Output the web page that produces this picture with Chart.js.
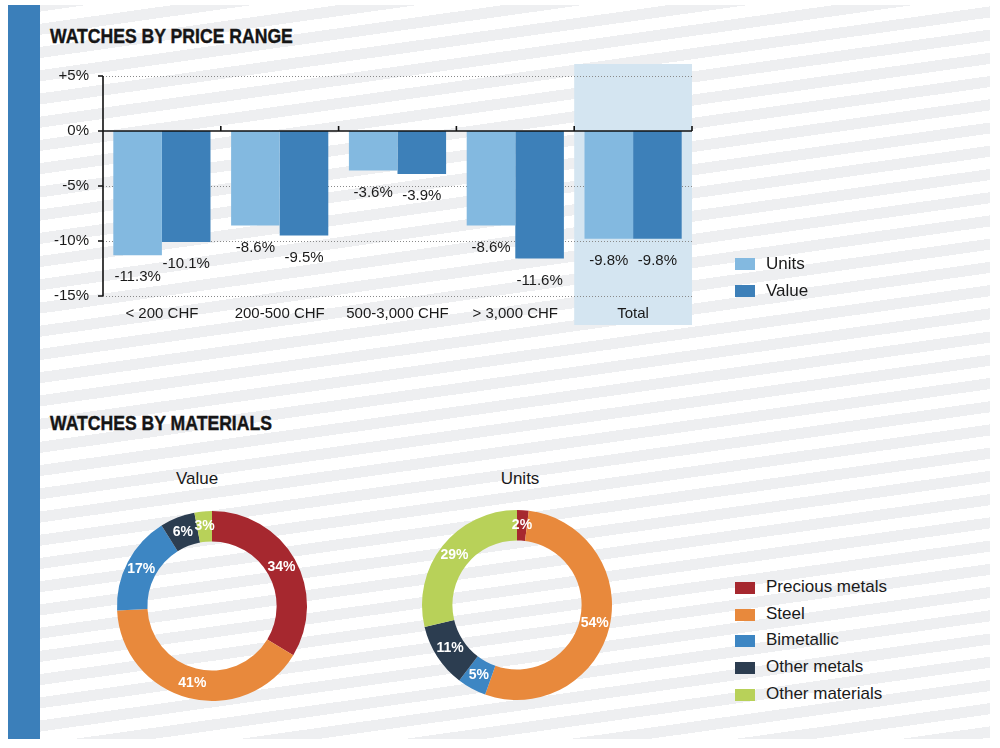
<!DOCTYPE html>
<html>
<head>
<meta charset="utf-8">
<script src="https://cdn.jsdelivr.net/npm/chart.js@4.4.1/dist/chart.umd.min.js"></script>
<style>
  html, body { margin: 0; padding: 0; background: #fff; }
  body { width: 1000px; height: 748px; position: relative; overflow: hidden;
         font-family: "Liberation Sans", Arial, sans-serif; color: #1a1a1a; }
  #bg { position: absolute; left: 8px; top: 5px; width: 982px; height: 734px;
        background: repeating-linear-gradient(172deg, #eeeff1 0px, #eeeff1 11px, #fff 11px, #fff 23px); }
  #band { position: absolute; left: 8px; top: 5px; width: 32px; height: 734px; background: #3b7fba; }
  .title { position: absolute; left: 50px; font-family: "Liberation Sans", Arial, sans-serif;
           font-weight: bold; font-size: 20px; line-height: 20px; white-space: nowrap;
           transform: scaleX(0.88); transform-origin: 0 0; color: #151515;
           -webkit-text-stroke: 0.4px #151515; }
  canvas { position: absolute; }
  .legend { position: absolute; left: 735px; font-size: 17px; }
  .legend div { height: 27px; line-height: 27px; position: relative; padding-left: 31px; white-space: nowrap; }
  .legend span { position: absolute; left: 0; top: 8px; width: 20px; height: 12px; }
  .sub { position: absolute; top: 469px; font-size: 17px; line-height: 20px; transform: translateX(-50%); }
</style>
</head>
<body>
<div id="bg"></div>
<div id="band"></div>
<div class="title" style="top:26px">WATCHES BY PRICE RANGE</div>
<div class="title" style="top:413px">WATCHES BY MATERIALS</div>
<canvas id="bars" width="1000" height="340" style="left:0;top:0"></canvas>
<div class="legend" id="barLegend" style="top:250px"></div>

<div class="sub" style="left:197px">Value</div>
<div class="sub" style="left:520px">Units</div>
<canvas id="ringValue" width="200" height="200" style="left:112px;top:506px"></canvas>
<canvas id="ringUnits" width="200" height="200" style="left:417px;top:505px"></canvas>
<div class="legend" id="ringLegend" style="top:574px"></div>

<script>
// price ranges, change vs previous year in %
const categories = ['< 200 CHF', '200-500 CHF', '500-3,000 CHF', '> 3,000 CHF', 'Total'];
const unitsChange = [-11.3, -8.6, -3.6, -8.6, -9.8];
const valueChange = [-10.1, -9.5, -3.9, -11.6, -9.8];
const yTicks = [5, 0, -5, -10, -15];
const yTickLabels = ['+5%', '0%', '-5%', '-10%', '-15%'];
const highlightCategory = 'Total';

// materials, share in %
const materials = ['Precious metals', 'Steel', 'Bimetallic', 'Other metals', 'Other materials'];
const valueShares = [34, 41, 17, 6, 3];
const unitShares = [2, 54, 5, 11, 29];

const lightBlue = '#83b9e0';
const darkBlue = '#3d80b9';
const materialColors = ['#a6282f', '#e8893c', '#3d86c3', '#2c3d50', '#b8d159'];
const textColor = '#1a1a1a';
const font = '"Liberation Sans", Arial, sans-serif';

Chart.defaults.font.family = font;
Chart.defaults.color = textColor;

function fmt(v) {
  return v.toFixed(1) + '%';
}

const barFrame = {
  id: 'barFrame',
  beforeDraw(chart) {
    const {ctx, chartArea: a, scales: {x}} = chart;
    const w = (a.right - a.left) / categories.length;
    const cx = x.getPixelForValue(categories.indexOf(highlightCategory));
    ctx.save();
    ctx.fillStyle = '#d4e5f1';
    ctx.fillRect(cx - w / 2, a.top - 12, w, a.bottom - a.top + 41);
    ctx.restore();
  },
  beforeDatasetsDraw(chart) {
    const {ctx, chartArea: a, scales: {y}} = chart;
    ctx.save();
    ctx.strokeStyle = '#8a8a8a';
    ctx.lineWidth = 1;
    ctx.setLineDash([1, 2]);
    yTicks.forEach(v => {
      if (v === 0) return;
      const py = Math.round(y.getPixelForValue(v)) + 0.5;
      ctx.beginPath();
      ctx.moveTo(a.left, py);
      ctx.lineTo(a.right, py);
      ctx.stroke();
    });
    ctx.restore();
  },
  afterDatasetsDraw(chart) {
    const {ctx, chartArea: a, scales: {x, y}} = chart;
    const y0 = y.getPixelForValue(0);
    const w = (a.right - a.left) / categories.length;
    ctx.save();
    ctx.strokeStyle = '#111';
    ctx.lineWidth = 1.6;
    ctx.beginPath();
    ctx.moveTo(a.left, y0);
    ctx.lineTo(a.right, y0);
    ctx.moveTo(a.left, a.top);
    ctx.lineTo(a.left, a.bottom);
    yTicks.forEach(v => {
      const py = y.getPixelForValue(v);
      ctx.moveTo(a.left - 5, py);
      ctx.lineTo(a.left, py);
    });
    for (let i = 1; i <= categories.length; i++) {
      const px = a.left + i * w;
      ctx.moveTo(px, y0 - 5);
      ctx.lineTo(px, y0);
    }
    ctx.stroke();

    // value labels under the bar ends
    ctx.fillStyle = textColor;
    ctx.font = '15px ' + font;
    ctx.textAlign = 'center';
    ctx.textBaseline = 'middle';
    chart.data.datasets.forEach((ds, di) => {
      chart.getDatasetMeta(di).data.forEach((bar, i) => {
        ctx.fillText(fmt(ds.data[i]), bar.x, bar.y + 22);
      });
    });
    ctx.restore();
  }
};

new Chart(document.getElementById('bars'), {
  type: 'bar',
  data: {
    labels: categories,
    datasets: [
      { label: 'Units', data: unitsChange, backgroundColor: lightBlue },
      { label: 'Value', data: valueChange, backgroundColor: darkBlue }
    ]
  },
  options: {
    responsive: false,
    animation: false,
    events: [],
    categoryPercentage: 0.825,
    barPercentage: 1,
    layout: { padding: { left: 40, right: 308, top: 76, bottom: 14 } },
    scales: {
      x: {
        grid: { display: false, drawTicks: false },
        border: { display: false },
        ticks: { padding: 9, font: { size: 15 }, color: textColor },
        afterFit(s) { s.height = 30; }
      },
      y: {
        min: -15,
        max: 5,
        grid: { display: false, drawTicks: false },
        border: { display: false },
        afterBuildTicks(s) { s.ticks = yTicks.map(v => ({ value: v })); },
        ticks: {
          padding: 14,
          font: { size: 15 },
          color: textColor,
          callback: v => yTickLabels[yTicks.indexOf(v)]
        },
        afterFit(s) { s.width = 63; }
      }
    },
    plugins: { legend: { display: false }, tooltip: { enabled: false } }
  },
  plugins: [barFrame]
});

const ringLabels = {
  id: 'ringLabels',
  afterDatasetsDraw(chart) {
    const ctx = chart.ctx;
    const vals = chart.data.datasets[0].data;
    ctx.save();
    ctx.fillStyle = '#fff';
    ctx.font = 'bold 14px ' + font;
    ctx.textAlign = 'center';
    ctx.textBaseline = 'middle';
    chart.getDatasetMeta(0).data.forEach((arc, i) => {
      const p = arc.getProps(['x', 'y', 'startAngle', 'endAngle', 'innerRadius', 'outerRadius']);
      const m = (p.startAngle + p.endAngle) / 2;
      const r = (p.innerRadius + p.outerRadius) / 2;
      ctx.fillText(vals[i] + '%', p.x + Math.cos(m) * r, p.y + Math.sin(m) * r);
    });
    ctx.restore();
  }
};

function ring(id, shares) {
  new Chart(document.getElementById(id), {
    type: 'doughnut',
    data: {
      labels: materials,
      datasets: [{
        data: shares,
        backgroundColor: materialColors,
        borderWidth: 0,
        hoverOffset: 0,
        hoverBorderWidth: 0
      }]
    },
    options: {
      responsive: false,
      animation: false,
      events: [],
      cutout: '68%',
      layout: { padding: 5 },
      plugins: { legend: { display: false }, tooltip: { enabled: false } }
    },
    plugins: [ringLabels]
  });
}
ring('ringValue', valueShares);
ring('ringUnits', unitShares);

function legend(el, names, colors) {
  el.innerHTML = names.map((n, i) =>
    '<div><span style="background:' + colors[i] + '"></span>' + n + '</div>').join('');
}
legend(document.getElementById('barLegend'), ['Units', 'Value'], [lightBlue, darkBlue]);
legend(document.getElementById('ringLegend'), materials, materialColors);
document.querySelectorAll('#ringLegend div').forEach(d => d.style.height = d.style.lineHeight = '26.7px');
</script>
</body>
</html>
